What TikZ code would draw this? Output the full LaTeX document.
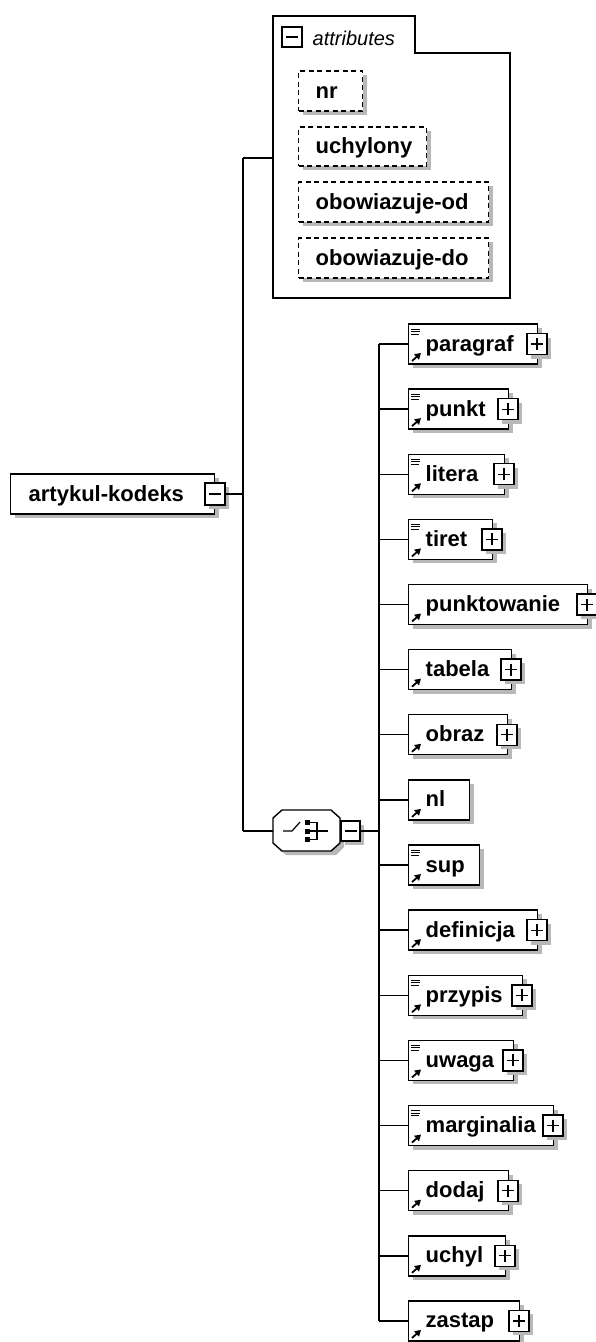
\documentclass[tikz,border=0pt]{standalone}
\usepackage{fontspec}
\setmainfont{Liberation Sans}
\usetikzlibrary{shadows,arrows.meta}
\begin{document}
\begin{tikzpicture}[x=1pt,y=-1pt,line width=1.4pt,
  sh/.style={drop shadow={shadow xshift=4pt,shadow yshift=-4pt,fill=black!28,opacity=1}},
  elbox/.style={draw,fill=white,sh,rectangle,inner sep=0pt,minimum height=40pt},
  attbox/.style={draw,dash pattern=on 5pt off 3.5pt,fill=white,sh,rectangle,inner sep=0pt,minimum height=40pt},
  lbl/.style={font=\fontsize{22}{26}\selectfont\bfseries,inner sep=0pt,anchor=base west},
  ilbl/.style={font=\fontsize{20}{24}\selectfont\itshape,inner sep=0pt,anchor=base west},
  pmplain/.style={draw,fill=white,inner sep=0pt,minimum width=20pt,minimum height=21pt},
  pmbox/.style={pmplain,sh},
  plusmark/.style={path picture={\draw[line width=1.1pt]
     ([xshift=-6pt]path picture bounding box.center) -- ([xshift=6pt]path picture bounding box.center)
     ([yshift=-6pt]path picture bounding box.center) -- ([yshift=6pt]path picture bounding box.center);}},
  minusmark/.style={path picture={\draw[line width=1.1pt]
     ([xshift=-6pt]path picture bounding box.center) -- ([xshift=6pt]path picture bounding box.center);}},
  plusbox/.style={pmbox,plusmark},
  minusbox/.style={pmbox,minusmark},
  conn/.style={draw,line width=1.4pt},
  icon/.style={line width=1pt},
  refarrow/.style={line width=1.8pt,-{Triangle[length=6pt,width=7pt]}}
]
\useasboundingbox (0,0) rectangle (596,1342);

% ---------- attributes group ----------
\draw[fill=white] (273,16) -- (415,16) -- (415,53) -- (510,53) -- (510,298) -- (273,298) -- cycle;
\coordinate (attrL) at (273,158);
\node[pmplain,minusmark,minimum width=20pt,minimum height=20pt] (attrm) at (292,37) {};
\node[ilbl] (attrt) at (312,45) {attributes};

\node[attbox,minimum width=64pt,anchor=west] (nr) at (298,91) {};
\node[lbl] at (315,98) {nr};
\node[attbox,minimum width=128pt,anchor=west,minimum height=39pt] (uchylony) at (298,146.5) {};
\node[lbl] at (315,153.5) {uchylony};
\node[attbox,minimum width=190pt,anchor=west] (obod) at (298,202) {};
\node[lbl] at (315,209) {obowiazuje-od};
\node[attbox,minimum width=190pt,anchor=west] (obdo) at (298,258) {};
\node[lbl] at (315,265) {obowiazuje-do};

% ---------- root ----------
\node[elbox,minimum width=204pt,anchor=west] (root) at (10,494) {};
\node[lbl] (roott) at (28,501) {artykul-kodeks};
\node[minusbox,minimum height=22pt] (rootm) at (215,494) {};
\coordinate (trunk) at (243,494);

% ---------- choice ----------
\coordinate (chL) at (273,831);
\coordinate (chR) at (340,831);
\fill[black!28] (286,814) -- (336,814) -- (344,822) -- (344,847) -- (336,855) -- (286,855) -- (277,847) -- (277,822) -- cycle;
\draw[fill=white] (282,810) -- (331,810) -- (340,818) -- (340,843) -- (331,851) -- (282,851) -- (273,843) -- (273,818) -- cycle;
% choice icon
\draw[line width=1.2pt] (283,831) -- (292,831) -- (300,822);
\fill (304.5,820) rectangle (309.5,825);
\fill (304.5,828.5) rectangle (309.5,833.5);
\fill (304.5,837) rectangle (309.5,842);
\draw[line width=1.2pt] (309.5,822.5) -- (317,822.5) -- (317,839.5) -- (309.5,839.5)
  (309.5,831) -- (328,831);
\node[minusbox,minimum width=19pt,minimum height=20pt] (chm) at (350.5,831) {};
\coordinate (bus) at (379,831);

% ---------- connectors of root ----------
\draw[conn] (rootm.east) -- (trunk);
\draw[conn] (trunk |- attrL) -- (trunk |- chL);
\draw[conn] (trunk |- attrL) -- (attrL);
\draw[conn] (trunk |- chL) -- (chL);
\draw[conn] (chm.east) -- (bus);

% ---------- children ----------
\foreach \nm/\k/\R/\ic/\pl in {paragraf/0/537/1/1, punkt/1/508/1/1, litera/2/504/1/1, tiret/3/492/1/1,
   punktowanie/4/587/0/1, tabela/5/511/0/1, obraz/6/507/0/1, nl/7/469/0/0, sup/8/479/1/0,
   definicja/9/537/0/1, przypis/10/522/1/1, uwaga/11/513/1/1, marginalia/12/553/1/1,
   dodaj/13/508/0/1, uchyl/14/505/0/1, zastap/15/519/0/1}{
  \pgfmathsetmacro\c{344+65.13*\k}
  \pgfmathsetmacro\w{\R-408}
  \node[elbox,minimum width=\w pt,anchor=west] (\nm) at (408,\c) {};
  \node[lbl] (\nm-t) at (425,\c+7) {\nm};
  \ifnum\ic=1
    \draw[icon] (411,\c-15) -- (420,\c-15) (411,\c-12.5) -- (420,\c-12.5) (411,\c-10) -- (419,\c-10);
  \fi
  \draw[refarrow] (412,\c+17) -- (421,\c+9);
  \ifnum\pl=1
    \node[plusbox] (\nm-p) at (\R,\c) {};
  \fi
  \draw[conn] (bus |- \nm.west) -- (\nm.west);
}
\draw[conn] (bus |- paragraf.west) -- (bus |- zastap.west);
\end{tikzpicture}
\end{document}
